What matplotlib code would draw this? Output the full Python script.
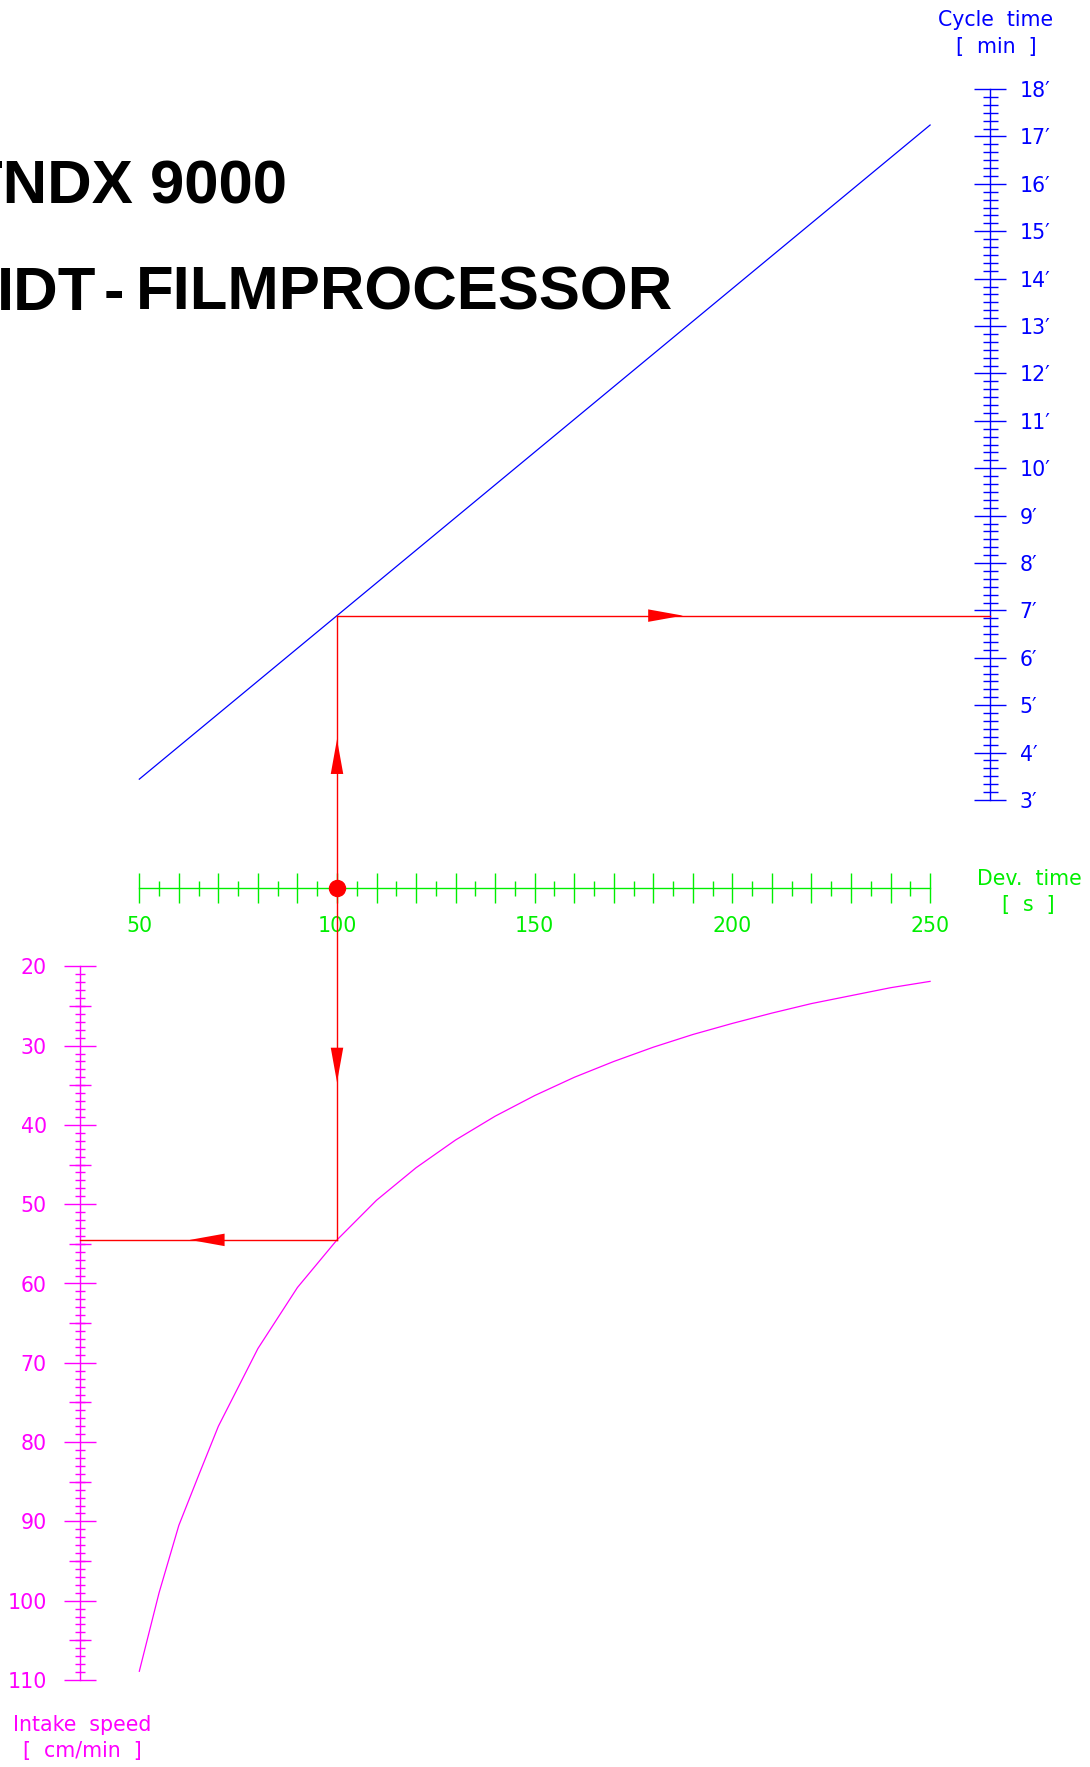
import numpy as np
import matplotlib
matplotlib.use("Agg")
import matplotlib.pyplot as plt
from matplotlib.ticker import FixedLocator, FuncFormatter, NullFormatter
from matplotlib import font_manager

# ---------------- data ----------------
dev_time_line = [50, 250]                 # development time [s]
cycle_time_line = [3.44, 17.24]           # cycle time [min]
dev_time_curve = [50, 55, 60, 65, 70, 80, 90, 100, 110, 120, 130, 140,
                  150, 160, 170, 180, 190, 200, 210, 220, 230, 240, 250]
intake_speed_curve = [108.9, 99.0, 90.5, 84.2, 78.0, 68.2, 60.5, 54.5, 49.5,
                      45.4, 41.9, 38.9, 36.3, 34.0, 32.0, 30.2, 28.6, 27.2,
                      25.9, 24.7, 23.7, 22.7, 21.9]
example_dev_time = 100
dev_major_ticks = list(range(50, 251, 10))
dev_minor_ticks = list(range(55, 250, 10))
dev_labeled = [50, 100, 150, 200, 250]
cycle_major_ticks = list(range(3, 19))
speed_major_ticks = list(range(20, 111, 10))
speed_mid_ticks = list(range(25, 110, 10))
speed_minor_ticks = list(range(21, 110))
title_line1 = "TNDX 9000"
title_line2 = ["IDT", "-", "FILMPROCESSOR"]

# ---------------- layout (pixels of a 1090x1767 canvas) ----------------
W, H = 1090, 1767
DEV_X50 = 139.3          # x pixel of 50 s
PX_PER_S = 3.954
DEV_AXIS_Y = 887.7
CYC_AXIS_X = 990.0
CYC_Y18 = 89.0
PX_PER_MIN = 47.4
SPD_AXIS_X = 80.0
SPD_Y20 = 966.3
PX_PER_SPD = 7.93
SPD_BOTTOM = 1680.0

BLUE = "#0000ff"
GREEN = "#00ee00"
MAGENTA = "#ff00ff"
RED = "#ff0000"
TICKFONT = "DejaVu Sans"

fig = plt.figure(figsize=(W / 100, H / 100), dpi=100)
fig.patch.set_facecolor("white")

def fx(px):
    return px / W

def fy(py):
    return 1 - py / H

# ---- upper axes: dev time (x) vs cycle time (y) ----
up_xmax = 50 + (CYC_AXIS_X - DEV_X50) / PX_PER_S
up_ymin = 18 - (DEV_AXIS_Y - CYC_Y18) / PX_PER_MIN
ax_up = fig.add_axes([fx(DEV_X50), fy(DEV_AXIS_Y),
                      (CYC_AXIS_X - DEV_X50) / W, (DEV_AXIS_Y - CYC_Y18) / H])
ax_up.set_xlim(50, up_xmax)
ax_up.set_ylim(up_ymin, 18)
ax_up.set_facecolor("none")
for s in ["top", "left"]:
    ax_up.spines[s].set_visible(False)
ax_up.spines["right"].set_bounds(3, 18)
ax_up.spines["right"].set_color(BLUE)
ax_up.spines["right"].set_linewidth(1.0)
ax_up.spines["bottom"].set_bounds(50, 250)
ax_up.spines["bottom"].set_color(GREEN)
ax_up.spines["bottom"].set_linewidth(1.0)

ax_up.yaxis.tick_right()
ax_up.yaxis.set_major_locator(FixedLocator(cycle_major_ticks))
ax_up.yaxis.set_minor_locator(FixedLocator(np.arange(3, 18.0001, 1 / 6)))
ax_up.yaxis.set_major_formatter(FuncFormatter(lambda v, p: f"{int(round(v))}\u2032"))
ax_up.yaxis.set_minor_formatter(NullFormatter())
ax_up.tick_params(axis="y", which="major", direction="inout", length=23,
                  width=1.0, color=BLUE, labelcolor=BLUE, labelsize=14.8, pad=10)
ax_up.tick_params(axis="y", which="minor", direction="inout", length=10.8,
                  width=1.0, color=BLUE)

ax_up.xaxis.set_major_locator(FixedLocator(dev_major_ticks))
ax_up.xaxis.set_minor_locator(FixedLocator(dev_minor_ticks))
ax_up.xaxis.set_major_formatter(FuncFormatter(
    lambda v, p: f"{int(round(v))}" if int(round(v)) in dev_labeled else ""))
ax_up.xaxis.set_minor_formatter(NullFormatter())
ax_up.tick_params(axis="x", which="major", direction="inout", length=21.6,
                  width=1.0, color=GREEN, labelcolor=GREEN, labelsize=14.8, pad=9.5)
ax_up.tick_params(axis="x", which="minor", direction="inout", length=10.8,
                  width=1.0, color=GREEN)
for lab in ax_up.get_xticklabels() + ax_up.get_yticklabels():
    lab.set_family(TICKFONT)

ax_up.plot(dev_time_line, cycle_time_line, color=BLUE, lw=0.9, clip_on=False)

# ---- lower axes: dev time (x) vs intake speed (y, inverted) ----
low_xmin = 50 - (DEV_X50 - SPD_AXIS_X) / PX_PER_S
low_xmax = 250
low_ytop = 20 - (SPD_Y20 - DEV_AXIS_Y) / PX_PER_SPD
low_ybot = 20 + (SPD_BOTTOM - SPD_Y20) / PX_PER_SPD
x_right_px = DEV_X50 + (low_xmax - 50) * PX_PER_S
ax_low = fig.add_axes([fx(SPD_AXIS_X), fy(SPD_BOTTOM),
                       (x_right_px - SPD_AXIS_X) / W, (SPD_BOTTOM - DEV_AXIS_Y) / H])
ax_low.set_xlim(low_xmin, low_xmax)
ax_low.set_ylim(low_ybot, low_ytop)
ax_low.set_facecolor("none")
for s in ["top", "right", "bottom"]:
    ax_low.spines[s].set_visible(False)
ax_low.spines["left"].set_bounds(20, 110)
ax_low.spines["left"].set_color(MAGENTA)
ax_low.spines["left"].set_linewidth(1.0)
ax_low.xaxis.set_visible(False)
ax_low.yaxis.set_major_locator(FixedLocator(speed_major_ticks))
ax_low.yaxis.set_minor_locator(FixedLocator(speed_minor_ticks))
ax_low.yaxis.set_minor_formatter(NullFormatter())
ax_low.tick_params(axis="y", which="major", direction="inout", length=22.6,
                   width=1.0, color=MAGENTA, labelcolor=MAGENTA, labelsize=14.8, pad=12.5)
ax_low.tick_params(axis="y", which="minor", direction="inout", length=7.5,
                   width=1.0, color=MAGENTA)
for lab in ax_low.get_yticklabels():
    lab.set_family(TICKFONT)

sec = ax_low.secondary_yaxis("left")
sec.set_yticks(speed_mid_ticks)
sec.tick_params(axis="y", which="major", direction="inout", length=15.4,
                width=1.0, color=MAGENTA, labelleft=False)
sec.yaxis.set_minor_locator(FixedLocator([]))
sec.spines["left"].set_visible(False)

ax_low.plot(dev_time_curve, intake_speed_curve, color=MAGENTA, lw=0.9, clip_on=False)

# ---- red example path ----
ex_cyc = float(np.interp(example_dev_time, dev_time_line, cycle_time_line))
ex_spd = float(np.interp(example_dev_time, dev_time_curve, intake_speed_curve))
ax_up.plot([example_dev_time, example_dev_time], [up_ymin, ex_cyc], color=RED, lw=1.0, clip_on=False, zorder=4)
ax_up.plot([example_dev_time, up_xmax], [ex_cyc, ex_cyc], color=RED, lw=1.0, clip_on=False, zorder=4)
ax_low.plot([example_dev_time, example_dev_time], [low_ytop, ex_spd], color=RED, lw=1.0, clip_on=False, zorder=4)
ax_low.plot([example_dev_time, low_xmin], [ex_spd, ex_spd], color=RED, lw=1.0, clip_on=False, zorder=4)
ax_up.plot([example_dev_time], [up_ymin], "o", color=RED, ms=11.5, clip_on=False, zorder=6)

def arrow(ax, p0, p1, f_base, f_tip):
    x0, y0 = p0
    x1, y1 = p1
    base = (x0 + (x1 - x0) * f_base, y0 + (y1 - y0) * f_base)
    tip = (x0 + (x1 - x0) * f_tip, y0 + (y1 - y0) * f_tip)
    ax.annotate("", xy=tip, xytext=base, xycoords="data", textcoords="data",
                arrowprops=dict(arrowstyle="-|>,head_length=2.5,head_width=0.45",
                                color=RED, lw=0, shrinkA=0, shrinkB=0,
                                mutation_scale=10),
                annotation_clip=False, zorder=5)

arrow(ax_up, (example_dev_time, up_ymin), (example_dev_time, ex_cyc), 0.423, 0.5456)
arrow(ax_up, (example_dev_time, ex_cyc), (up_xmax, ex_cyc), 0.4745, 0.5297)
arrow(ax_low, (example_dev_time, low_ytop), (example_dev_time, ex_spd), 0.4534, 0.5529)
arrow(ax_low, (example_dev_time, ex_spd), (low_xmin, ex_spd), 0.4326, 0.5725)

# ---- axis titles ----
LBL = 14.8
fig.text(fx(996), fy(26), "Cycle  time", color=BLUE, fontsize=LBL, family=TICKFONT,
         ha="center", va="baseline")
fig.text(fx(996), fy(53), "[  min  ]", color=BLUE, fontsize=LBL, family=TICKFONT,
         ha="center", va="baseline")
fig.text(fx(1029), fy(885), "Dev.  time", color=GREEN, fontsize=LBL, family=TICKFONT,
         ha="center", va="baseline")
fig.text(fx(1028), fy(911), "[  s  ]", color=GREEN, fontsize=LBL, family=TICKFONT,
         ha="center", va="baseline")
fig.text(fx(82), fy(1731), "Intake  speed", color=MAGENTA, fontsize=LBL, family=TICKFONT,
         ha="center", va="baseline")
fig.text(fx(82), fy(1757), "[  cm/min  ]", color=MAGENTA, fontsize=LBL, family=TICKFONT,
         ha="center", va="baseline")

# ---- big title ----
names = {f.name for f in font_manager.fontManager.ttflist}
title_font = "Liberation Sans Narrow" if "Liberation Sans Narrow" in names else "Liberation Sans"
renderer = fig.canvas.get_renderer()
probe = fig.text(0, 0, "FILMPROCESSOR", fontsize=50, fontweight="bold", family=title_font)
pw = probe.get_window_extent(renderer=renderer).width
probe.remove()
tsize = 50 * 538 / pw
fig.text(fx(287), fy(203), title_line1, fontsize=tsize, fontweight="bold",
         family=title_font, ha="right", va="baseline", color="black")
fig.text(fx(-3), fy(310), title_line2[0], fontsize=tsize, fontweight="bold",
         family=title_font, ha="left", va="baseline", color="black")
fig.text(fx(114), fy(310), title_line2[1], fontsize=tsize, fontweight="bold",
         family=title_font, ha="center", va="baseline", color="black")
fig.text(fx(673), fy(310), title_line2[2], fontsize=tsize, fontweight="bold",
         family=title_font, ha="right", va="baseline", color="black")

fig.savefig("out.png", dpi=100, facecolor="white")
